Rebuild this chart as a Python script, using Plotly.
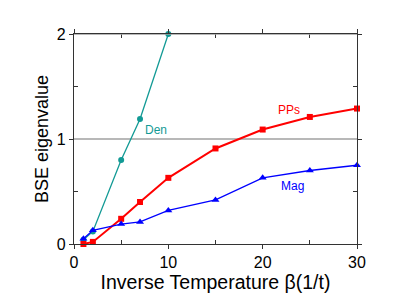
import plotly.graph_objects as go

beta = [1, 2, 5, 7, 10, 15, 20, 25, 30]
den_x = [1, 2, 5, 7, 10]
den_y = [0.04, 0.12, 0.80, 1.19, 2.0]
pps_y = [0.00, 0.02, 0.24, 0.40, 0.63, 0.91, 1.09, 1.21, 1.29]
mag_y = [0.05, 0.13, 0.19, 0.21, 0.32, 0.42, 0.63, 0.70, 0.75]

teal = "#129a95"
red = "#ff0000"
blue = "#0000ff"
font = "Liberation Sans, Arial, sans-serif"

fig = go.Figure()
for yv in [1, 2]:
    fig.add_shape(type="line", xref="paper", yref="y", x0=0, x1=1, y0=yv, y1=yv,
                  line=dict(color="#a0a0a0", width=1.5), layer="below" if yv == 1 else "above")

fig.add_trace(go.Scatter(x=den_x, y=den_y, mode="lines+markers",
                         line=dict(color=teal, width=1.3),
                         marker=dict(symbol="circle", size=6, color=teal),
                         cliponaxis=False, showlegend=False))
fig.add_trace(go.Scatter(x=beta, y=pps_y, mode="lines+markers",
                         line=dict(color=red, width=2),
                         marker=dict(symbol="square", size=6, color=red),
                         cliponaxis=False, showlegend=False))
fig.add_trace(go.Scatter(x=beta, y=mag_y, mode="lines+markers",
                         line=dict(color=blue, width=1.3),
                         marker=dict(symbol="triangle-up", size=7, color=blue),
                         cliponaxis=False, showlegend=False))

for txt, x, y, c in [("Den", 8.7, 1.09, teal), ("PPs", 22.8, 1.28, red), ("Mag", 23.2, 0.55, blue)]:
    fig.add_annotation(x=x, y=y, text=txt, showarrow=False,
                       font=dict(color=c, size=12, family=font))

fig.update_layout(
    width=407, height=286,
    margin=dict(l=66, r=58, t=26, b=50, autoexpand=False),
    paper_bgcolor="white", plot_bgcolor="white",
    font=dict(family=font, size=16, color="black"),
    xaxis=dict(range=[0, 30], tickvals=[0, 10, 20, 30], showgrid=False, zeroline=False,
               automargin=False, mirror="ticks",
               showline=True, linecolor="#333", linewidth=1.3,
               ticks="outside", ticklen=4, tickcolor="#333",
               minor=dict(tickvals=[5, 15, 25], ticks="inside", ticklen=4, tickcolor="#333"),
               title=dict(text="Inverse Temperature β(1/t)", font=dict(size=19.5), standoff=0)),
    yaxis=dict(range=[0, 2], tickvals=[0, 1, 2], showgrid=False, zeroline=False,
               automargin=False,
               showline=True, linecolor="#333", linewidth=1.3, mirror="ticks",
               ticks="outside", ticklen=4, tickcolor="#333",
               minor=dict(tickvals=[0.5, 1.5], ticks="inside", ticklen=4, tickcolor="#333"),
               title=dict(text="BSE eigenvalue", font=dict(size=18), standoff=3)),
)

fig.write_html("out.html")
